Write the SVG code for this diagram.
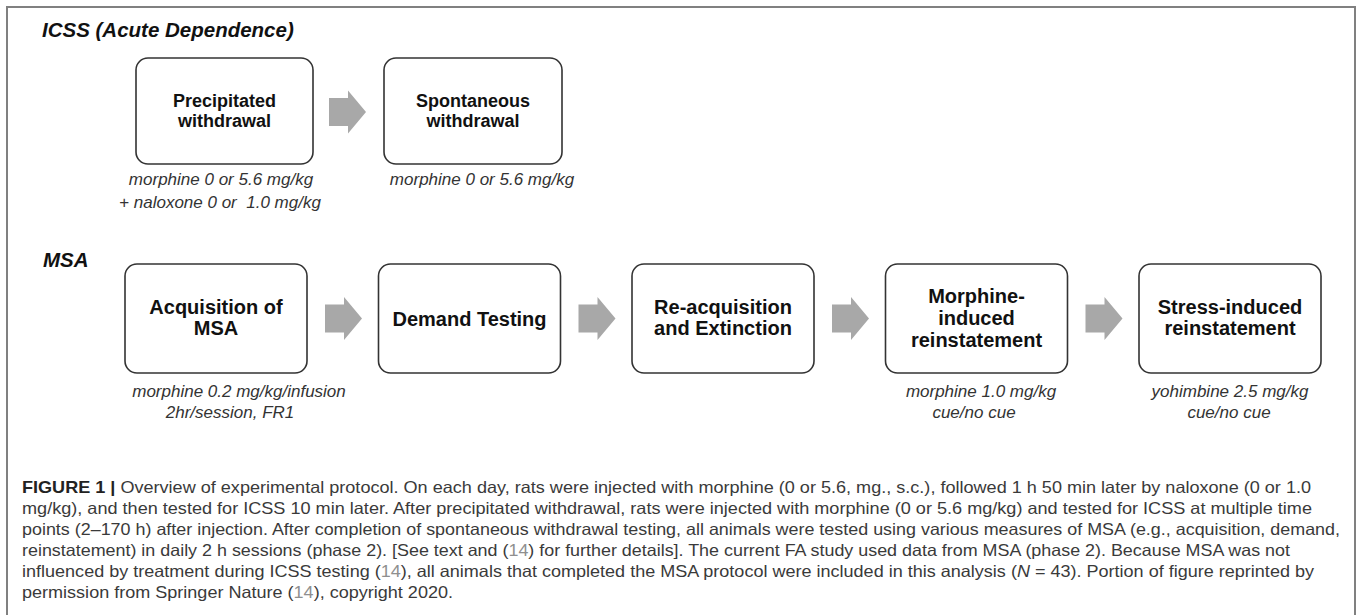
<svg xmlns="http://www.w3.org/2000/svg" xmlns:xlink="http://www.w3.org/1999/xlink" width="1357" height="615" viewBox="0 0 1357 615">
<style>
.frame{fill:none;stroke:#808080;stroke-width:2}
.box{fill:#fff;stroke:#333;stroke-width:1.6}
.bt{font-family:"Liberation Sans",Arial,sans-serif;font-weight:bold;fill:#111;text-anchor:middle}
.b18{font-size:18px}
.b20{font-size:20px}
.cap{font-family:"Liberation Sans",Arial,sans-serif;font-style:italic;font-size:17px;fill:#333;text-anchor:middle}
.title{font-family:"Liberation Sans",Arial,sans-serif;font-style:italic;font-weight:bold;font-size:20.5px;fill:#111}
.fig{font-family:"Liberation Sans",Arial,sans-serif;font-size:16.5px;fill:#3a3a3a}
.figb{font-weight:bold;fill:#222}
.ref{fill:#8f8f8f}
.arr{fill:#a8a8a8}
</style>
<defs>
<path id="arrow" d="M0,-14 H19 V-21.5 L37,0 L19,21.5 V14 H0 Z"/>
</defs>
<path class="frame" d="M7,615 V7 H1355 V615"/>
<text class="title" x="42" y="37">ICSS (Acute Dependence)</text>
<text class="title" x="43" y="267">MSA</text>
<g id="connectors">
<use xlink:href="#arrow" class="arr" x="329" y="112"/>
<use xlink:href="#arrow" class="arr" x="325" y="318.5"/>
<use xlink:href="#arrow" class="arr" x="578.5" y="318.5"/>
<use xlink:href="#arrow" class="arr" x="832" y="318.5"/>
<use xlink:href="#arrow" class="arr" x="1085.5" y="318.5"/>
</g>
<g id="precipitated">
<rect class="box" x="136" y="58" width="177" height="106" rx="12"/>
<text class="bt b18" x="224.5" y="107">Precipitated</text>
<text class="bt b18" x="224.5" y="127">withdrawal</text>
<text class="cap" x="221" y="185">morphine 0 or 5.6 mg/kg</text>
<text class="cap" x="220" y="208" xml:space="preserve">+ naloxone 0 or  1.0 mg/kg</text>
</g>
<g id="spontaneous">
<rect class="box" x="384" y="58" width="178" height="106" rx="12"/>
<text class="bt b18" x="473" y="107">Spontaneous</text>
<text class="bt b18" x="473" y="127">withdrawal</text>
<text class="cap" x="482" y="185">morphine 0 or 5.6 mg/kg</text>
</g>
<g id="acquisition">
<rect class="box" x="125" y="264" width="182" height="109" rx="12"/>
<text class="bt b20" x="216" y="314">Acquisition of</text>
<text class="bt b20" x="216" y="335">MSA</text>
<text class="cap" x="239" y="397">morphine 0.2 mg/kg/infusion</text>
<text class="cap" x="230" y="418">2hr/session, FR1</text>
</g>
<g id="demand">
<rect class="box" x="378.5" y="264" width="182" height="109" rx="12"/>
<text class="bt b20" x="469.5" y="325.5">Demand Testing</text>
</g>
<g id="reacquisition">
<rect class="box" x="632" y="264" width="182" height="109" rx="12"/>
<text class="bt b20" x="723" y="314">Re-acquisition</text>
<text class="bt b20" x="723" y="335">and Extinction</text>
</g>
<g id="morphine-induced">
<rect class="box" x="885.5" y="264" width="182" height="109" rx="12"/>
<text class="bt b20" x="976.5" y="303">Morphine-</text>
<text class="bt b20" x="976.5" y="325">induced</text>
<text class="bt b20" x="976.5" y="347">reinstatement</text>
<text class="cap" x="981" y="397">morphine 1.0 mg/kg</text>
<text class="cap" x="974" y="418">cue/no cue</text>
</g>
<g id="stress-induced">
<rect class="box" x="1139" y="264" width="182" height="109" rx="12"/>
<text class="bt b20" x="1230" y="314">Stress-induced</text>
<text class="bt b20" x="1230" y="335">reinstatement</text>
<text class="cap" x="1230" y="397">yohimbine 2.5 mg/kg</text>
<text class="cap" x="1229" y="418">cue/no cue</text>
</g>
<g id="caption">
<text class="fig" x="22" y="492.5" textLength="1289" lengthAdjust="spacingAndGlyphs"><tspan class="figb">FIGURE 1 |</tspan> Overview of experimental protocol. On each day, rats were injected with morphine (0 or 5.6, mg., s.c.), followed 1 h 50 min later by naloxone (0 or 1.0</text>
<text class="fig" x="22" y="513.5" textLength="1290" lengthAdjust="spacingAndGlyphs">mg/kg), and then tested for ICSS 10 min later. After precipitated withdrawal, rats were injected with morphine (0 or 5.6 mg/kg) and tested for ICSS at multiple time</text>
<text class="fig" x="22" y="534.5" textLength="1318" lengthAdjust="spacingAndGlyphs">points (2–170 h) after injection. After completion of spontaneous withdrawal testing, all animals were tested using various measures of MSA (e.g., acquisition, demand,</text>
<text class="fig" x="22" y="555.5" textLength="1268" lengthAdjust="spacingAndGlyphs">reinstatement) in daily 2 h sessions (phase 2). [See text and (<tspan class="ref">14</tspan>) for further details]. The current FA study used data from MSA (phase 2). Because MSA was not</text>
<text class="fig" x="22" y="576.5" textLength="1292" lengthAdjust="spacingAndGlyphs">influenced by treatment during ICSS testing (<tspan class="ref">14</tspan>), all animals that completed the MSA protocol were included in this analysis (<tspan font-style="italic">N</tspan> = 43). Portion of figure reprinted by</text>
<text class="fig" x="22" y="597.5" textLength="431" lengthAdjust="spacingAndGlyphs">permission from Springer Nature (<tspan class="ref">14</tspan>), copyright 2020.</text>
</g>
</svg>
